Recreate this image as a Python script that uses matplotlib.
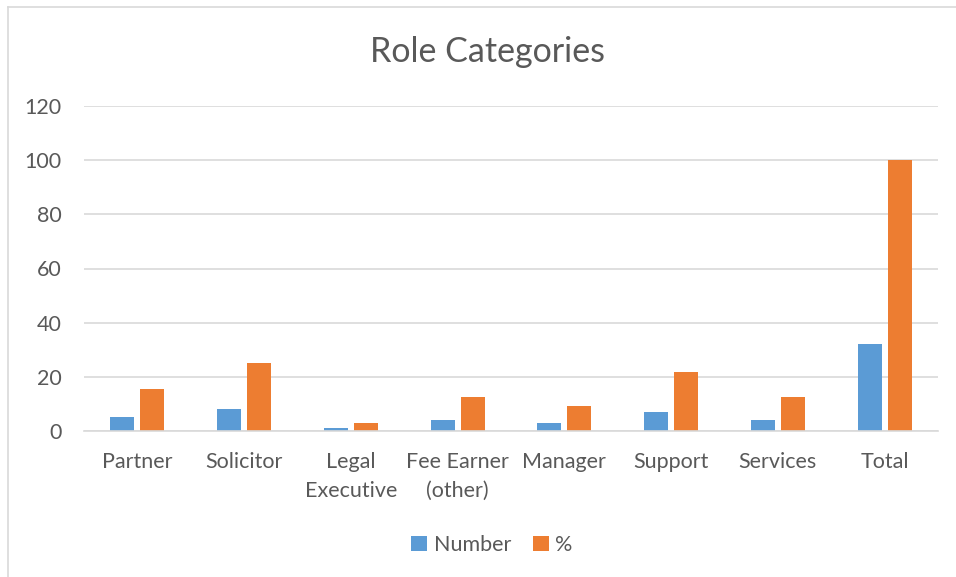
import numpy as np
import matplotlib.pyplot as plt
from matplotlib.lines import Line2D

categories = ['Partner', 'Solicitor', 'Legal\nExecutive', 'Fee Earner\n(other)',
              'Manager', 'Support', 'Services', 'Total']
number = [5, 8, 1, 4, 3, 7, 4, 32]
percent = [15.6, 25.0, 3.1, 12.5, 9.4, 21.9, 12.5, 100.0]

BLUE = '#5B9BD5'
ORANGE = '#ED7D31'
TEXT = '#595959'
GRID = '#D9D9D9'

plt.rcParams['font.family'] = ['Lato', 'DejaVu Sans']

fig = plt.figure(figsize=(9.56, 5.77), dpi=100)
ax = fig.add_axes([84 / 956, 1 - 431 / 577, (938 - 84) / 956, (431 - 106) / 577])

x = np.arange(len(categories))
width = 0.225
gap = 0.056
ax.bar(x - (width + gap) / 2, number, width, color=BLUE, label='Number', zorder=3)
ax.bar(x + (width + gap) / 2, percent, width, color=ORANGE, label='%', zorder=3)

ax.set_xlim(-0.5, len(categories) - 0.5)
ax.set_ylim(0, 120)
ax.set_yticks(range(0, 121, 20))
ax.set_xticks(x)
ax.set_xticklabels(categories, fontsize=15.5, color=TEXT, linespacing=1.55, va='top')
ax.tick_params(axis='y', labelsize=15.5, labelcolor=TEXT, length=0, pad=16)
ax.tick_params(axis='x', length=0, pad=15)
ax.grid(axis='y', color=GRID, linewidth=1.2, zorder=0)
for side in ['top', 'right', 'left']:
    ax.spines[side].set_visible(False)
ax.spines['bottom'].set_color(GRID)
ax.spines['bottom'].set_linewidth(1.2)
ax.spines['bottom'].set_zorder(4)

fig.text(488 / 956, 1 - 52 / 577, 'Role Categories', ha='center', va='center',
         fontsize=24.5, color=TEXT)

fig.legend(loc='center', bbox_to_anchor=(492 / 956, 1 - 545 / 577), ncol=2,
           frameon=False, fontsize=15.5, labelcolor=TEXT, handlelength=0.75,
           handleheight=0.75, handletextpad=0.3, columnspacing=1.0)

# chart frame (left and top edges visible)
fig.add_artist(Line2D([8 / 956, 8 / 956], [0, 1 - 7 / 577], color=GRID, linewidth=1.2,
                      transform=fig.transFigure))
fig.add_artist(Line2D([8 / 956, 1], [1 - 7 / 577, 1 - 7 / 577], color=GRID, linewidth=1.2,
                      transform=fig.transFigure))

fig.savefig('out.png', dpi=100)
